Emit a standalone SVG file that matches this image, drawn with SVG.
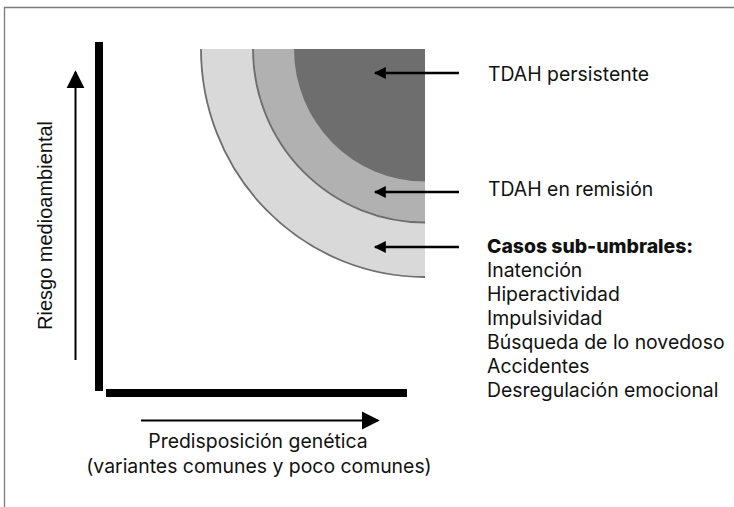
<svg xmlns="http://www.w3.org/2000/svg" width="734" height="507" viewBox="0 0 734 507">
<style>
.t{font-family:Inter,"Noto Sans",sans-serif;font-size:19.4px;fill:#111}
.b{font-weight:800}
.ax{font-family:"Liberation Sans",Arial,sans-serif;font-size:20px;fill:#111}
.ptr{stroke:#000;stroke-width:2.5;fill:none}
.band{stroke:#6e6e6e;stroke-width:1.8}
</style>
<defs>
<marker id="ah" viewBox="0 0 10 10" refX="9" refY="5" markerWidth="13" markerHeight="12" markerUnits="userSpaceOnUse" orient="auto">
<path d="M0,0 L10,5 L0,10 Z" fill="#000"/>
</marker>
<marker id="big" viewBox="0 0 10 10" refX="9" refY="5" markerWidth="18" markerHeight="19" markerUnits="userSpaceOnUse" orient="auto">
<path d="M0,0 L10,5 L0,10 Z" fill="#000"/>
</marker>
</defs>
<rect width="734" height="507" fill="#fff"/>
<path d="M4.5,507 V7.5 H734" fill="none" stroke="#7a7a7a" stroke-width="1.3"/>

<g id="outer-band">
<path d="M201,49 H425 V277 A224,228 0 0 1 201,49 Z" fill="#d9d9d9"/>
<path class="band" d="M201,49 A224,228 0 0 0 425,277" fill="none"/>
</g>
<g id="middle-band">
<path d="M253,49 H425 V222.5 A172,173.5 0 0 1 253,49 Z" fill="#b1b1b1"/>
<path class="band" d="M253,49 A172,173.5 0 0 0 425,222.5" fill="none"/>
</g>
<g id="inner-core">
<path d="M294,49 H425 V181.5 A131,132.5 0 0 1 294,49 Z" fill="#6e6e6e"/>
</g>

<g id="axes">
<rect x="95" y="42" width="8" height="349" fill="#000"/>
<rect x="106" y="389" width="301" height="8" fill="#000"/>
</g>

<g id="connectors">
<line class="ptr" x1="459" y1="73" x2="375" y2="73" marker-end="url(#ah)"/>
<line class="ptr" x1="459" y1="192" x2="375" y2="192" marker-end="url(#ah)"/>
<line class="ptr" x1="459" y1="247" x2="375" y2="247" marker-end="url(#ah)"/>
<line x1="75.5" y1="360" x2="75.5" y2="72" stroke="#000" stroke-width="2" marker-end="url(#big)"/>
<line x1="141" y1="420.5" x2="378" y2="420.5" stroke="#000" stroke-width="2" marker-end="url(#big)"/>
</g>

<g id="label-persistente"><text class="t" x="488" y="81">TDAH persistente</text></g>
<g id="label-remision"><text class="t" x="488" y="196">TDAH en remisión</text></g>
<g id="label-subumbral">
<text class="t" x="487" y="253"><tspan class="b">Casos sub-umbrales:</tspan><tspan x="487" dy="24">Inatención</tspan><tspan x="487" dy="24">Hiperactividad</tspan><tspan x="487" dy="24">Impulsividad</tspan><tspan x="487" dy="24">Búsqueda de lo novedoso</tspan><tspan x="487" dy="24">Accidentes</tspan><tspan x="487" dy="24">Desregulación emocional</tspan></text>
</g>
<g id="label-y"><text class="ax" transform="translate(51.5,225.5) rotate(-90)" text-anchor="middle">Riesgo medioambiental</text></g>
<g id="label-x">
<text class="t" x="258" y="448" text-anchor="middle">Predisposición genética</text>
<text class="t" x="259" y="473" text-anchor="middle">(variantes comunes y poco comunes)</text>
</g>
</svg>
